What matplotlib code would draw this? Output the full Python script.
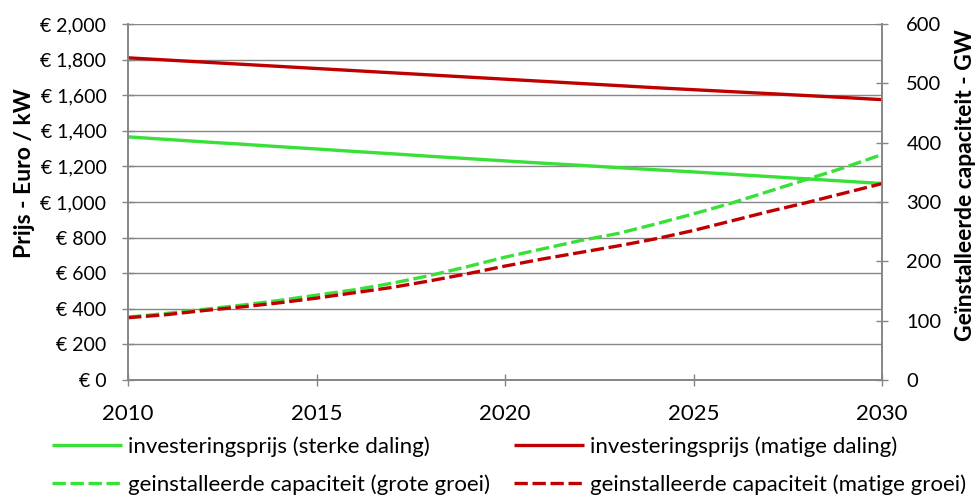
import matplotlib
matplotlib.use("Agg")
import matplotlib.pyplot as plt
from matplotlib.ticker import FuncFormatter, MultipleLocator

plt.rcParams['font.family'] = ['Lato', 'DejaVu Sans']

years = list(range(2010, 2031))

# investeringsprijs, euro / kW (left axis)
prijs_sterk = [1366, 1352, 1338, 1325, 1311, 1298, 1284, 1271, 1257, 1244, 1231,
               1218, 1206, 1193, 1181, 1169, 1156, 1143, 1130, 1117, 1104]
prijs_matig = [1810, 1798, 1786, 1774, 1762, 1750, 1738, 1726, 1714, 1702, 1690,
               1678, 1666, 1654, 1642, 1631, 1620, 1609, 1598, 1587, 1575]

# geinstalleerde capaciteit, GW (right axis)
cap_groot = [106, 112, 119, 126, 134, 143, 152, 163, 176, 191, 207,
             221, 235, 247, 263, 280, 298, 318, 338, 358, 380]
cap_matig = [105, 110, 117, 123, 130, 138, 147, 156, 167, 179, 192,
             204, 215, 226, 238, 252, 268, 284, 299, 315, 331]

labels = ["investeringsprijs (sterke daling)",
          "geinstalleerde capaciteit (grote groei)",
          "investeringsprijs (matige daling)",
          "geinstalleerde capaciteit (matige groei)"]

green = "#38E038"
red = "#C00000"
grey = "#868686"

fig = plt.figure(figsize=(9.75, 5.04), dpi=100)
ax = fig.add_axes([128 / 975, 1 - 380 / 504, 754 / 975, 356 / 504])
ax2 = ax.twinx()

l1, = ax.plot(years, prijs_sterk, color=green, lw=2.4, solid_capstyle='butt')
l3, = ax.plot(years, prijs_matig, color=red, lw=2.4, solid_capstyle='butt')
l2, = ax2.plot(years, cap_groot, color=green, lw=2.4, dashes=(4, 1.4))
l4, = ax2.plot(years, cap_matig, color=red, lw=2.4, dashes=(4, 1.4))

ax.set_xlim(2010, 2030)
ax.set_ylim(0, 2000)
ax2.set_ylim(0, 600)
ax.xaxis.set_major_locator(MultipleLocator(5))
ax.yaxis.set_major_locator(MultipleLocator(200))
ax2.yaxis.set_major_locator(MultipleLocator(100))
ax.yaxis.set_major_formatter(FuncFormatter(lambda v, p: f"€ {v:,.0f}"))

ax.grid(axis='y', color=grey, lw=1.0)
ax.set_axisbelow(True)
for a in (ax, ax2):
    a.spines['top'].set_visible(False)
    for s in ('left', 'right', 'bottom'):
        a.spines[s].set_color(grey)
        a.spines[s].set_linewidth(1.2)
ax.tick_params(axis='both', direction='inout', length=8, width=1, color=grey)
ax.tick_params(axis='x', labelsize=16, pad=13)
ax.tick_params(axis='y', labelsize=14, pad=11.5)
ax2.tick_params(axis='y', direction='inout', length=8, width=1, color=grey,
                labelsize=14.5, pad=13.5)

fig.text(25 / 975, 1 - 173 / 504, "Prijs - Euro / kW", rotation=90,
         ha='center', va='center', fontsize=16.5, fontweight='bold')
fig.text(966 / 975, 1 - 185 / 504, "Geïnstalleerde capaciteit - GW", rotation=90,
         ha='center', va='center', fontsize=16.5, fontweight='bold')

fig.legend([l1, l2, l3, l4], labels, ncol=2, loc='upper left',
           bbox_to_anchor=(52 / 975, 1 - 436 / 504), frameon=False,
           fontsize=16, handlelength=3.15, handletextpad=0.27,
           labelspacing=0.78, columnspacing=1.08, borderpad=0, borderaxespad=0)

fig.savefig("out.png", dpi=100)
